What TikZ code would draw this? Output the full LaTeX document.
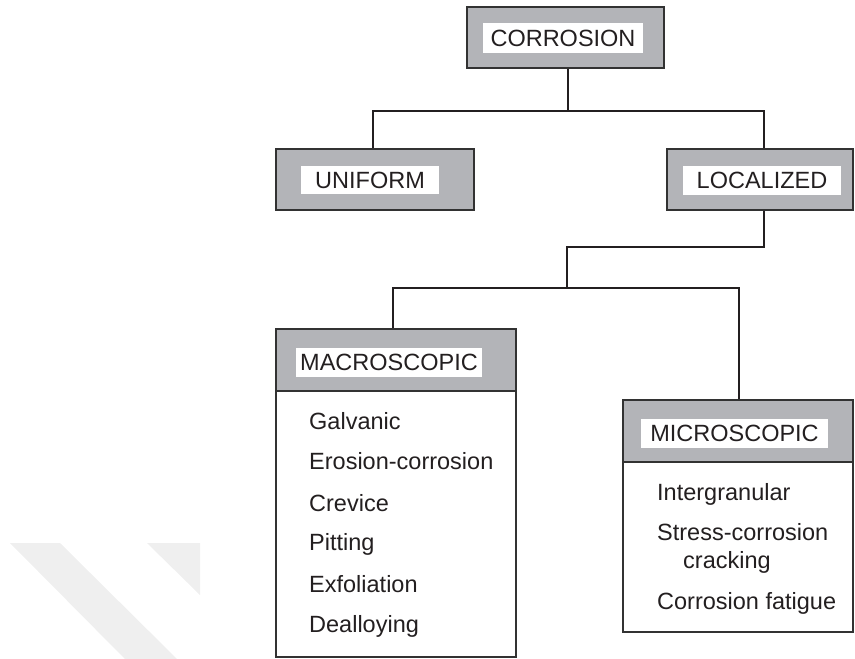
\documentclass[tikz,border=0pt]{standalone}
\usepackage{fontspec}
\setmainfont{Liberation Sans}
\definecolor{boxgrey}{RGB}{179,180,184}
\definecolor{ink}{RGB}{35,31,32}
\definecolor{edge}{RGB}{50,50,50}
\definecolor{paleband}{RGB}{239,239,239}
\begin{document}
\begin{tikzpicture}[x=1pt,y=-1pt,
  font=\fontsize{23.5}{28}\selectfont, text=ink,
  conn/.style={draw=ink, line width=2.2pt, line join=miter},
  greybox/.style={draw=edge, fill=boxgrey, line width=1.5pt, inner sep=0pt},
  whitebox/.style={draw=edge, fill=white, line width=1.5pt, inner sep=0pt},
  tag/.style={fill=white, inner sep=0pt},
  item/.style={anchor=base west, inner sep=0pt}]
\useasboundingbox (0,0) rectangle (855,659);

% faint background bands, lower left
\fill[paleband] (10,543) -- (60,543) -- (177,659) -- (125,659) -- cycle;
\fill[paleband] (147,543) -- (200,543) -- (200,595) -- cycle;

% junction points of the tree
\coordinate (bus1) at (568,111);
\coordinate (bus2) at (567,247);
\coordinate (bus3) at (567,288);

% top level
\node[greybox, minimum width=197pt, minimum height=61pt] (corr) at (565.5,37.5) {};
\node[tag, minimum width=160pt, minimum height=30pt] (corr-tag) at (563,38) {CORROSION};

% second level
\node[greybox, minimum width=198pt, minimum height=61pt] (unif) at (375,179.5) {};
\node[tag, minimum width=138pt, minimum height=28pt] (unif-tag) at (370,180) {UNIFORM};
\node[greybox, minimum width=186pt, minimum height=61pt] (loc) at (760,179.5) {};
\node[tag, minimum width=158pt, minimum height=29pt] (loc-tag) at (762,180.5) {LOCALIZED};

% macroscopic list
\node[whitebox, minimum width=240pt, minimum height=328pt] (macro) at (396,493) {};
\node[greybox, minimum width=240pt, minimum height=62pt] (macro-head) at (396,360) {};
\node[tag, minimum width=186pt, minimum height=29pt] (macro-tag) at (389,362.5) {MACROSCOPIC};
\node[item] (m1) at (309,429) {Galvanic};
\node[item] (m2) at (309,469) {Erosion-corrosion};
\node[item] (m3) at (309,511) {Crevice};
\node[item] (m4) at (309,550) {Pitting};
\node[item] (m5) at (309,592) {Exfoliation};
\node[item] (m6) at (309,632) {Dealloying};

% microscopic list
\node[whitebox, minimum width=230pt, minimum height=232pt] (micro) at (738,516) {};
\node[greybox, minimum width=230pt, minimum height=62pt] (micro-head) at (738,431) {};
\node[tag, minimum width=187pt, minimum height=29pt] (micro-tag) at (734.5,433.5) {MICROSCOPIC};
\node[item] (s1) at (657,500) {Intergranular};
\node[item] (s2) at (657,540) {Stress-corrosion};
\node[item] (s3) at (683,568) {cracking};
\node[item] (s4) at (657,609) {Corrosion fatigue};

% connectors
\draw[conn] ([xshift=2.5pt]corr.south) -- (bus1);
\draw[conn] ([xshift=-2pt]unif.north) |- (bus1) -| ([xshift=4pt]loc.north);
\draw[conn] ([xshift=4pt]loc.south) |- (bus2) -- (bus3);
\draw[conn] ([xshift=-3pt]macro-head.north) |- (bus3) -| ([xshift=1pt]micro-head.north);
\end{tikzpicture}
\end{document}
